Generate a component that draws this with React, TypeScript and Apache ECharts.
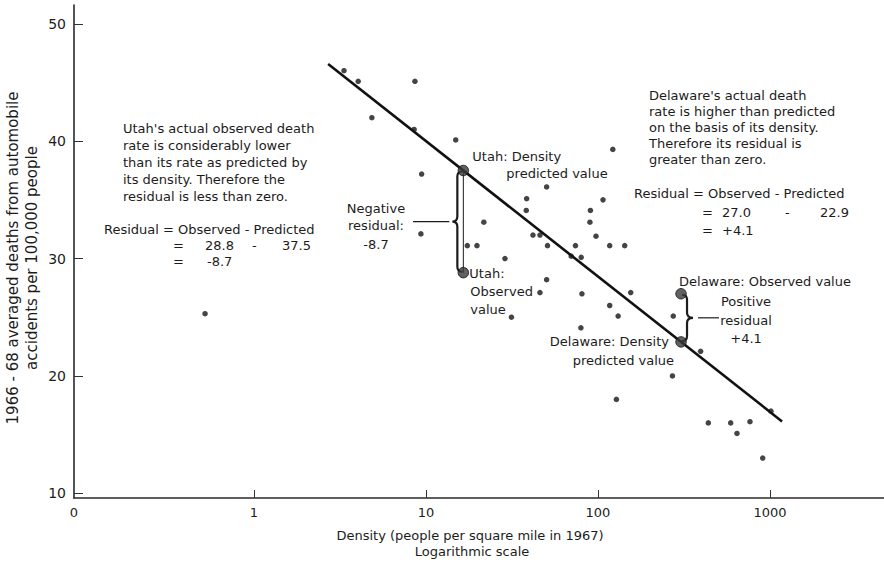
import React, { useEffect, useRef } from 'react';
import * as echarts from 'echarts';

// 1967 population density (people per square mile) for each state
const stateDensity = [
  0.52, 3.34, 4.04, 8.63, 4.85, 8.54, 14.9, 9.44, 9.35, 17.4, 19.8, 21.7, 28.8, 31.4, 38.5, 38.3,
  50.3, 41.9, 46.0, 50.9, 50.3, 46.0, 74.0, 69.9, 79.9, 80.7, 79.6, 90.4, 89.8, 97.4, 107, 122,
  117, 143, 155, 117, 131, 274, 395, 271, 128, 1013, 438, 591, 765, 643, 907,
];
// 1966-68 averaged automobile accident deaths per 100,000 people, same order
const stateDeathRate = [
  25.3, 46.0, 45.1, 45.1, 42.0, 41.0, 40.1, 37.2, 32.1, 31.1, 31.1, 33.1, 30.0, 25.0, 35.1, 34.1,
  36.1, 32.0, 32.0, 31.1, 28.2, 27.1, 31.1, 30.2, 30.1, 27.0, 24.1, 34.1, 33.1, 31.9, 35.0, 39.3,
  31.1, 31.1, 27.1, 26.0, 25.1, 25.1, 22.1, 20.0, 18.0, 17.0, 16.0, 16.0, 16.1, 15.1, 13.0,
];

// The two highlighted states
const utahDensity = 16.5;
const utahObserved = 28.8;
const utahPredicted = 37.5;
const delawareDensity = 304;
const delawareObserved = 27.0;
const delawarePredicted = 22.9;

// Density range covered by the drawn regression line
const fitRange = [2.7, 1175];

// Axis ranges and ticks
const densityAxisRange = [0.09, 4600];
const rateAxisRange = [9.6, 51.6];
const densityTicks = [1, 10, 100, 1000];
const rateTicks = [10, 20, 30, 40, 50];

const FONT = '"DejaVu Sans", sans-serif';
const INK = '#1c1c1c';
const FS = 13;

// Regression line passes through both predicted values (linear in log10 density)
const slope =
  (delawarePredicted - utahPredicted) / (Math.log10(delawareDensity) - Math.log10(utahDensity));
const fitAt = (d: number) => utahPredicted + slope * (Math.log10(d) - Math.log10(utahDensity));

// Curly brace: vertical, tip pointing in direction `dir` (-1 left, +1 right)
const Brace = (echarts as any).graphic.extendShape({
  type: 'brace',
  shape: { x: 0, y1: 0, y2: 100, r: 5, tip: 5, dir: -1 },
  buildPath(ctx: any, s: any) {
    const { x, y1, y2, r, tip, dir } = s;
    const ym = (y1 + y2) / 2;
    const side = -dir;
    ctx.moveTo(x + side * r, y1);
    ctx.quadraticCurveTo(x, y1, x, y1 + r);
    ctx.lineTo(x, ym - r);
    ctx.quadraticCurveTo(x, ym, x + dir * tip, ym);
    ctx.quadraticCurveTo(x, ym, x, ym + r);
    ctx.lineTo(x, y2 - r);
    ctx.quadraticCurveTo(x, y2, x + side * r, y2);
  },
});
(echarts as any).graphic.registerShape('brace', Brace);

const txt = (
  text: string,
  x: number,
  y: number,
  align: 'left' | 'center' | 'right' = 'left',
  extra: any = {},
  size: number = FS
) => ({
  type: 'text',
  x,
  y,
  silent: true,
  ...extra,
  style: {
    text,
    fill: INK,
    font: `${size}px ${FONT}`,
    textAlign: align,
    textVerticalAlign: 'middle',
  },
});

export default function App() {
  const ref = useRef<HTMLDivElement>(null);

  useEffect(() => {
    const el = ref.current!;
    const chart = echarts.init(el, null, { renderer: 'svg' });

    const states = stateDensity.map((d, i) => [d, stateDeathRate[i]]);
    const fitLine = fitRange.map((d) => [d, fitAt(d)]);
    const highlighted = [
      [utahDensity, utahPredicted],
      [utahDensity, utahObserved],
      [delawareDensity, delawareObserved],
      [delawareDensity, delawarePredicted],
    ];

    chart.setOption({
      animation: false,
      textStyle: { fontFamily: FONT },
      grid: { left: 74, right: 0, top: 5, bottom: 66, outerBoundsMode: 'none' },
      xAxis: {
        type: 'log',
        logBase: 10,
        min: densityAxisRange[0],
        max: densityAxisRange[1],
        axisLine: { lineStyle: { color: '#2a2a2a', width: 1.6 } },
        axisTick: {
          inside: true,
          length: 8,
          customValues: densityTicks,
          lineStyle: { color: '#333', width: 1 },
        },
        axisLabel: {
          customValues: [densityAxisRange[0], ...densityTicks],
          formatter: (v: number) => (v < 0.5 ? '0' : String(Math.round(v))),
          color: INK,
          fontSize: 13,
          margin: 8,
          fontFamily: FONT,
        },
        splitLine: { show: false },
      },
      yAxis: {
        type: 'value',
        min: rateAxisRange[0],
        max: rateAxisRange[1],
        axisLine: { show: true, lineStyle: { color: '#2a2a2a', width: 1.6 } },
        axisTick: {
          show: true,
          inside: true,
          length: 9,
          customValues: rateTicks,
          lineStyle: { color: '#333', width: 1 },
        },
        axisLabel: {
          customValues: rateTicks,
          color: INK,
          fontSize: 14,
          margin: 8,
          fontFamily: FONT,
        },
        splitLine: { show: false },
      },
      series: [
        {
          type: 'line',
          data: fitLine,
          symbol: 'none',
          lineStyle: { color: '#111', width: 2.6 },
          z: 2,
        },
        {
          type: 'scatter',
          data: states,
          symbolSize: 5.5,
          itemStyle: { color: '#151515' },
          z: 3,
        },
        {
          type: 'scatter',
          data: highlighted,
          symbolSize: 10.5,
          itemStyle: { color: '#3a3a3a', borderColor: '#111', borderWidth: 1 },
          z: 4,
        },
      ],
    });

    const px = (d: number, v: number) =>
      chart.convertToPixel({ gridIndex: 0 } as any, [d, v]) as number[];

    const up = px(utahDensity, utahPredicted);
    const uo = px(utahDensity, utahObserved);
    const dob = px(delawareDensity, delawareObserved);
    const dpr = px(delawareDensity, delawarePredicted);

    // Utah brace (left side of the residual, tip to the left)
    const uBraceX = up[0] - 6;
    const uTipX = uBraceX - 5;
    const uTipY = (up[1] + uo[1]) / 2;
    // Delaware brace (right side, tip to the right)
    const dBraceX = dob[0] + 6;
    const dTipX = dBraceX + 6;
    const dTipY = (dob[1] + dpr[1]) / 2;

    const graphic: any[] = [
      // axis titles
      txt('1966 - 68 averaged deaths from automobile', 13, 258, 'center', { rotation: Math.PI / 2 }, 15),
      txt('accidents per 100,000 people', 32, 258, 'center', { rotation: Math.PI / 2 }, 15),
      txt('Density (people per square mile in 1967)', 470, 535, 'center'),
      txt('Logarithmic scale', 472, 551, 'center'),

      // Utah explanation
      txt("Utah's actual observed death", 123, 128),
      txt('rate is considerably lower', 123, 145),
      txt('than its rate as predicted by', 123, 162),
      txt('its density. Therefore the', 123, 179),
      txt('residual is less than zero.', 123, 196),
      txt('Residual = Observed - Predicted', 104, 229),
      txt('=', 173, 245),
      txt('28.8', 205, 245),
      txt('-', 252, 245),
      txt('37.5', 282, 245),
      txt('=', 173, 261),
      txt('-8.7', 207, 261),

      // Delaware explanation
      txt("Delaware's actual death", 649, 95),
      txt('rate is higher than predicted', 649, 111),
      txt('on the basis of its density.', 649, 127),
      txt('Therefore its residual is', 649, 143),
      txt('greater than zero.', 649, 159),
      txt('Residual = Observed - Predicted', 634, 193),
      txt('=', 702, 212),
      txt('27.0', 722, 212),
      txt('-', 785, 212),
      txt('22.9', 820, 212),
      txt('=', 702, 230),
      txt('+4.1', 722, 230),

      // Utah residual
      {
        type: 'line',
        silent: true,
        shape: { x1: up[0], y1: up[1], x2: uo[0], y2: uo[1] },
        style: { stroke: INK, lineWidth: 1 },
        z: 1,
      },
      {
        type: 'brace',
        silent: true,
        shape: { x: uBraceX, y1: up[1] + 1, y2: uo[1] - 1, r: 5, tip: 5, dir: -1 },
        style: { stroke: INK, lineWidth: 2.2, fill: 'none' },
      },
      {
        type: 'line',
        silent: true,
        shape: { x1: 413, y1: uTipY, x2: uTipX - 3, y2: uTipY },
        style: { stroke: INK, lineWidth: 1.2 },
      },
      txt('Negative', 376, uTipY - 13, 'center'),
      txt('residual:', 376, uTipY + 4, 'center'),
      txt('-8.7', 376, uTipY + 23, 'center'),
      txt('Utah: Density', up[0] + 9, up[1] - 14),
      txt('predicted value', up[0] + 43, up[1] + 3),
      txt('Utah:', uo[0] + 6, uo[1] + 1),
      txt('Observed', uo[0] + 7, uo[1] + 19),
      txt('value', uo[0] + 7, uo[1] + 37),

      // Delaware residual
      {
        type: 'brace',
        silent: true,
        shape: { x: dBraceX, y1: dob[1] + 1, y2: dpr[1] - 1, r: 5, tip: 6, dir: 1 },
        style: { stroke: INK, lineWidth: 2.2, fill: 'none' },
      },
      {
        type: 'line',
        silent: true,
        shape: { x1: dTipX + 5, y1: dTipY, x2: dTipX + 26, y2: dTipY },
        style: { stroke: INK, lineWidth: 1.2 },
      },
      txt('Positive', dTipX + 53, dTipY - 16, 'center'),
      txt('residual', dTipX + 53, dTipY + 3, 'center'),
      txt('+4.1', dTipX + 53, dTipY + 21, 'center'),
      txt('Delaware: Observed value', dob[0] - 2, dob[1] - 12),
      txt('Delaware: Density', dpr[0] - 12, dpr[1], 'right'),
      txt('predicted value', dpr[0] - 7, dpr[1] + 19, 'right'),
    ];

    chart.setOption({ graphic });

    return () => chart.dispose();
  }, []);

  return (
    <div
      ref={ref}
      style={{ position: 'fixed', left: 0, top: 0, width: 884, height: 564, background: '#fff' }}
    />
  );
}
